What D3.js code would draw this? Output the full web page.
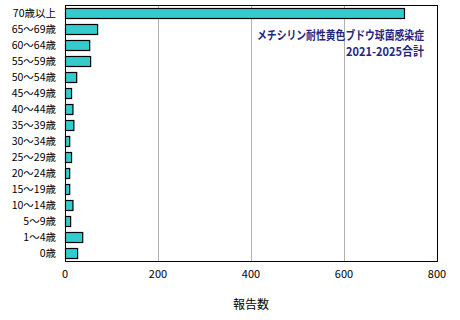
<!DOCTYPE html>
<html>
<head>
<meta charset="utf-8">
<script src="https://cdn.jsdelivr.net/npm/d3@7"></script>
<style>
  body { margin: 0; background: #fff; }
  text { font-family: "Noto Sans CJK JP", "DejaVu Sans", sans-serif; }
</style>
</head>
<body>
<div id="chart"></div>
<script>
const width = 460;
const height = 320;

const ageGroups = ["70歳以上", "65〜69歳", "60〜64歳", "55〜59歳", "50〜54歳", "45〜49歳",
  "40〜44歳", "35〜39歳", "30〜34歳", "25〜29歳", "20〜24歳", "15〜19歳",
  "10〜14歳", "5〜9歳", "1〜4歳", "0歳"];
const reports = [729, 69, 52, 54, 24, 13, 16, 18, 9, 13, 9, 9, 16, 11, 37, 26];
const xTicks = [0, 200, 400, 600, 800];
const titleLines = ["メチシリン耐性黄色ブドウ球菌感染症", "2021-2025合計"];
const titleWidths = [167, 78];

const plotLeft = 65, plotRight = 437, plotTop = 5, plotBottom = 261;

const svg = d3.select("#chart")
  .append("svg")
  .attr("width", width)
  .attr("height", height);

const x = d3.scaleLinear().domain([0, 800]).range([plotLeft, plotRight]);
const y = d3.scaleBand().domain(ageGroups).range([plotTop, plotBottom]).paddingInner(0.4).paddingOuter(0.2);

// grid lines
svg.selectAll("line.grid")
  .data(xTicks.slice(1, -1))
  .enter()
  .append("line")
  .attr("class", "grid")
  .attr("x1", d => x(d) + 0.5)
  .attr("x2", d => x(d) + 0.5)
  .attr("y1", plotTop)
  .attr("y2", plotBottom)
  .attr("stroke", "#b0b0b0")
  .attr("stroke-width", 1);

// plot frame
svg.append("rect")
  .attr("x", plotLeft + 0.5)
  .attr("y", plotTop + 0.5)
  .attr("width", plotRight - plotLeft)
  .attr("height", plotBottom - plotTop)
  .attr("fill", "none")
  .attr("stroke", "#000");

// bars
svg.selectAll("rect.bar")
  .data(reports)
  .enter()
  .append("rect")
  .attr("class", "bar")
  .attr("x", x(0) + 0.5)
  .attr("y", (d, i) => Math.round(y(ageGroups[i])) + 0.5)
  .attr("width", d => x(d) - x(0))
  .attr("height", Math.round(y.bandwidth()))
  .attr("fill", "#33cccc")
  .attr("stroke", "#000")
  .attr("stroke-width", 1.2);

// category labels
svg.selectAll("text.cat")
  .data(ageGroups)
  .enter()
  .append("text")
  .attr("class", "cat")
  .attr("x", plotLeft - 9)
  .attr("y", d => y(d) + y.bandwidth() / 2)
  .attr("dy", "0.35em")
  .attr("text-anchor", "end")
  .attr("font-size", "10.5px")
  .text(d => d);

// x tick labels
svg.selectAll("text.xt")
  .data(xTicks)
  .enter()
  .append("text")
  .attr("class", "xt")
  .attr("x", d => x(d))
  .attr("y", 278)
  .attr("text-anchor", "middle")
  .attr("font-size", "11px")
  .text(d => d);

// axis title
svg.append("text")
  .attr("x", (plotLeft + plotRight) / 2)
  .attr("y", 309)
  .attr("text-anchor", "middle")
  .attr("font-size", "12px")
  .text("報告数");

// chart title (condensed like the original)
svg.selectAll("text.title")
  .data(titleLines)
  .enter()
  .append("text")
  .attr("class", "title")
  .attr("x", (d, i) => 424 - titleWidths[i])
  .attr("y", (d, i) => 40 + i * 16)
  .attr("textLength", (d, i) => titleWidths[i])
  .attr("lengthAdjust", "spacingAndGlyphs")
  .attr("font-size", "12px")
  .attr("font-weight", "bold")
  .attr("fill", "#262680")
  .text(d => d);
</script>
</body>
</html>
